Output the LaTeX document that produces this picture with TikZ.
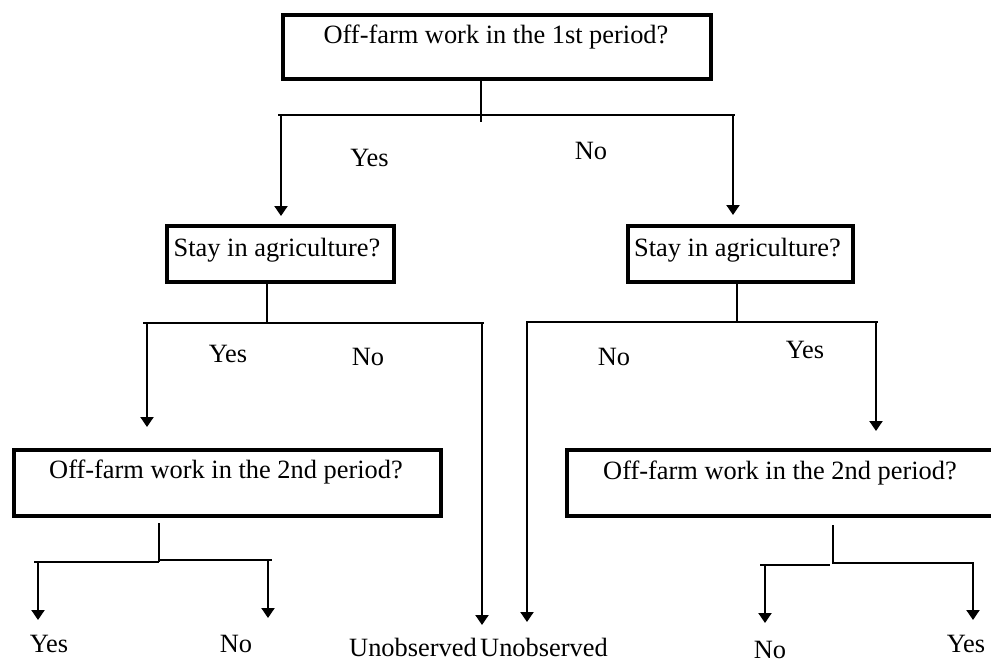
\documentclass[tikz,border=0pt]{standalone}
\usepackage{fontspec}
\setmainfont{Liberation Serif}
\usetikzlibrary{arrows.meta}
\begin{document}
\begin{tikzpicture}[x=0.5pt,y=-0.5pt,
  qbox/.style={draw, line width=2pt, inner sep=0pt, minimum height=33pt},
  lbl/.style={font=\fontsize{13.2}{15}\selectfont, inner sep=0pt, anchor=base},
  conn/.style={line width=1pt},
  arr/.style={line width=1pt, -{Triangle[width=6.5pt,length=5pt]}}]
\useasboundingbox (0,0) rectangle (991,661);
\clip (0,0) rectangle (991,661);

% boxes
\node[qbox, minimum width=214pt, minimum height=32pt] (q1) at (497,47) {};
\node[qbox, minimum width=113.5pt, minimum height=28pt] (q2) at (280.5,254) {};
\node[qbox, minimum width=112.5pt, minimum height=28pt] (q3) at (740.5,254) {};
\node[qbox, minimum width=213.5pt] (q4) at (227.5,483) {};
\node[qbox, minimum width=213pt] (q5) at (780,483) {};

% box texts
\node[lbl] (q1t) at (496,43) {Off-farm work in the 1st period?};
\node[lbl] (q2t) at (277,256) {Stay in agriculture?};
\node[lbl] (q3t) at (737.5,256) {Stay in agriculture?};
\node[lbl] (q4t) at (226,478) {Off-farm work in the 2nd period?};
\node[lbl] (q5t) at (780,479) {Off-farm work in the 2nd period?};

% branch labels
\node[lbl] (l1y) at (369.5,166) {Yes};
\node[lbl] (l1n) at (591,159) {No};
\node[lbl] (l2y) at (228,362) {Yes};
\node[lbl] (l2n) at (368,365) {No};
\node[lbl] (l3n) at (614,365) {No};
\node[lbl] (l3y) at (805,358) {Yes};

% outcomes
\node[lbl] (o1) at (49,652) {Yes};
\node[lbl] (o2) at (236,652) {No};
\node[lbl] (o3) at (413,656) {Unobserved};
\node[lbl] (o4) at (544,656) {Unobserved};
\node[lbl] (o5) at (770,658) {No};
\node[lbl] (o6) at (966,652) {Yes};

% level 1 connectors
\coordinate (s1) at (481,122);
\coordinate (b1l) at (278,115);
\coordinate (b1r) at (735,115);
\coordinate (t1l) at (281,216);
\coordinate (t1r) at (733,215);
\draw[conn] (q1.south -| s1) -- (s1);
\draw[conn] (b1l) -- (b1r);
\draw[arr] (t1l |- b1l) -- (t1l);
\draw[arr] (t1r |- b1r) -- (t1r);

% level 2 left
\coordinate (s2) at (267,323);
\coordinate (b2l) at (143,323);
\coordinate (b2r) at (484,323);
\coordinate (t2a) at (147,427);
\coordinate (t2b) at (482,625);
\draw[conn] (q2.south -| s2) -- (s2);
\draw[conn] (b2l) -- (b2r);
\draw[arr] (t2a |- b2l) -- (t2a);
\draw[arr] (t2b |- b2l) -- (t2b);

% level 2 right
\coordinate (s3) at (737,322);
\coordinate (b3l) at (526,322);
\coordinate (b3r) at (878,322);
\coordinate (t3a) at (527,622);
\coordinate (t3b) at (876,431);
\draw[conn] (q3.south -| s3) -- (s3);
\draw[conn] (b3l) -- (b3r);
\draw[arr] (t3a |- b3l) -- (t3a);
\draw[arr] (t3b |- b3l) -- (t3b);

% level 3 left
\coordinate (s4top) at (159,523);
\coordinate (s4) at (159,561.5);
\coordinate (b4l) at (34,562);
\coordinate (b4r) at (272,560);
\coordinate (t4a) at (38,620);
\coordinate (t4b) at (268,618);
\draw[conn] (s4top) -- (s4);
\draw[conn] (b4l) -- (b4l -| s4);
\draw[conn] (b4r -| s4) -- (b4r);
\draw[arr] (t4a |- b4l) -- (t4a);
\draw[arr] (t4b |- b4r) -- (t4b);

% level 3 right
\coordinate (s5top) at (833,525);
\coordinate (s5) at (833,563.5);
\coordinate (b5l) at (760,565);
\coordinate (b5m) at (830,565);
\coordinate (b5r) at (974,563);
\coordinate (t5a) at (765,623);
\coordinate (t5b) at (973,620);
\draw[conn] (s5top) -- (s5);
\draw[conn] (b5l) -- (b5m);
\draw[conn] (b5r -| s5) -- (b5r);
\draw[arr] (t5a |- b5l) -- (t5a);
\draw[arr] (t5b |- b5r) -- (t5b);
\end{tikzpicture}
\end{document}
